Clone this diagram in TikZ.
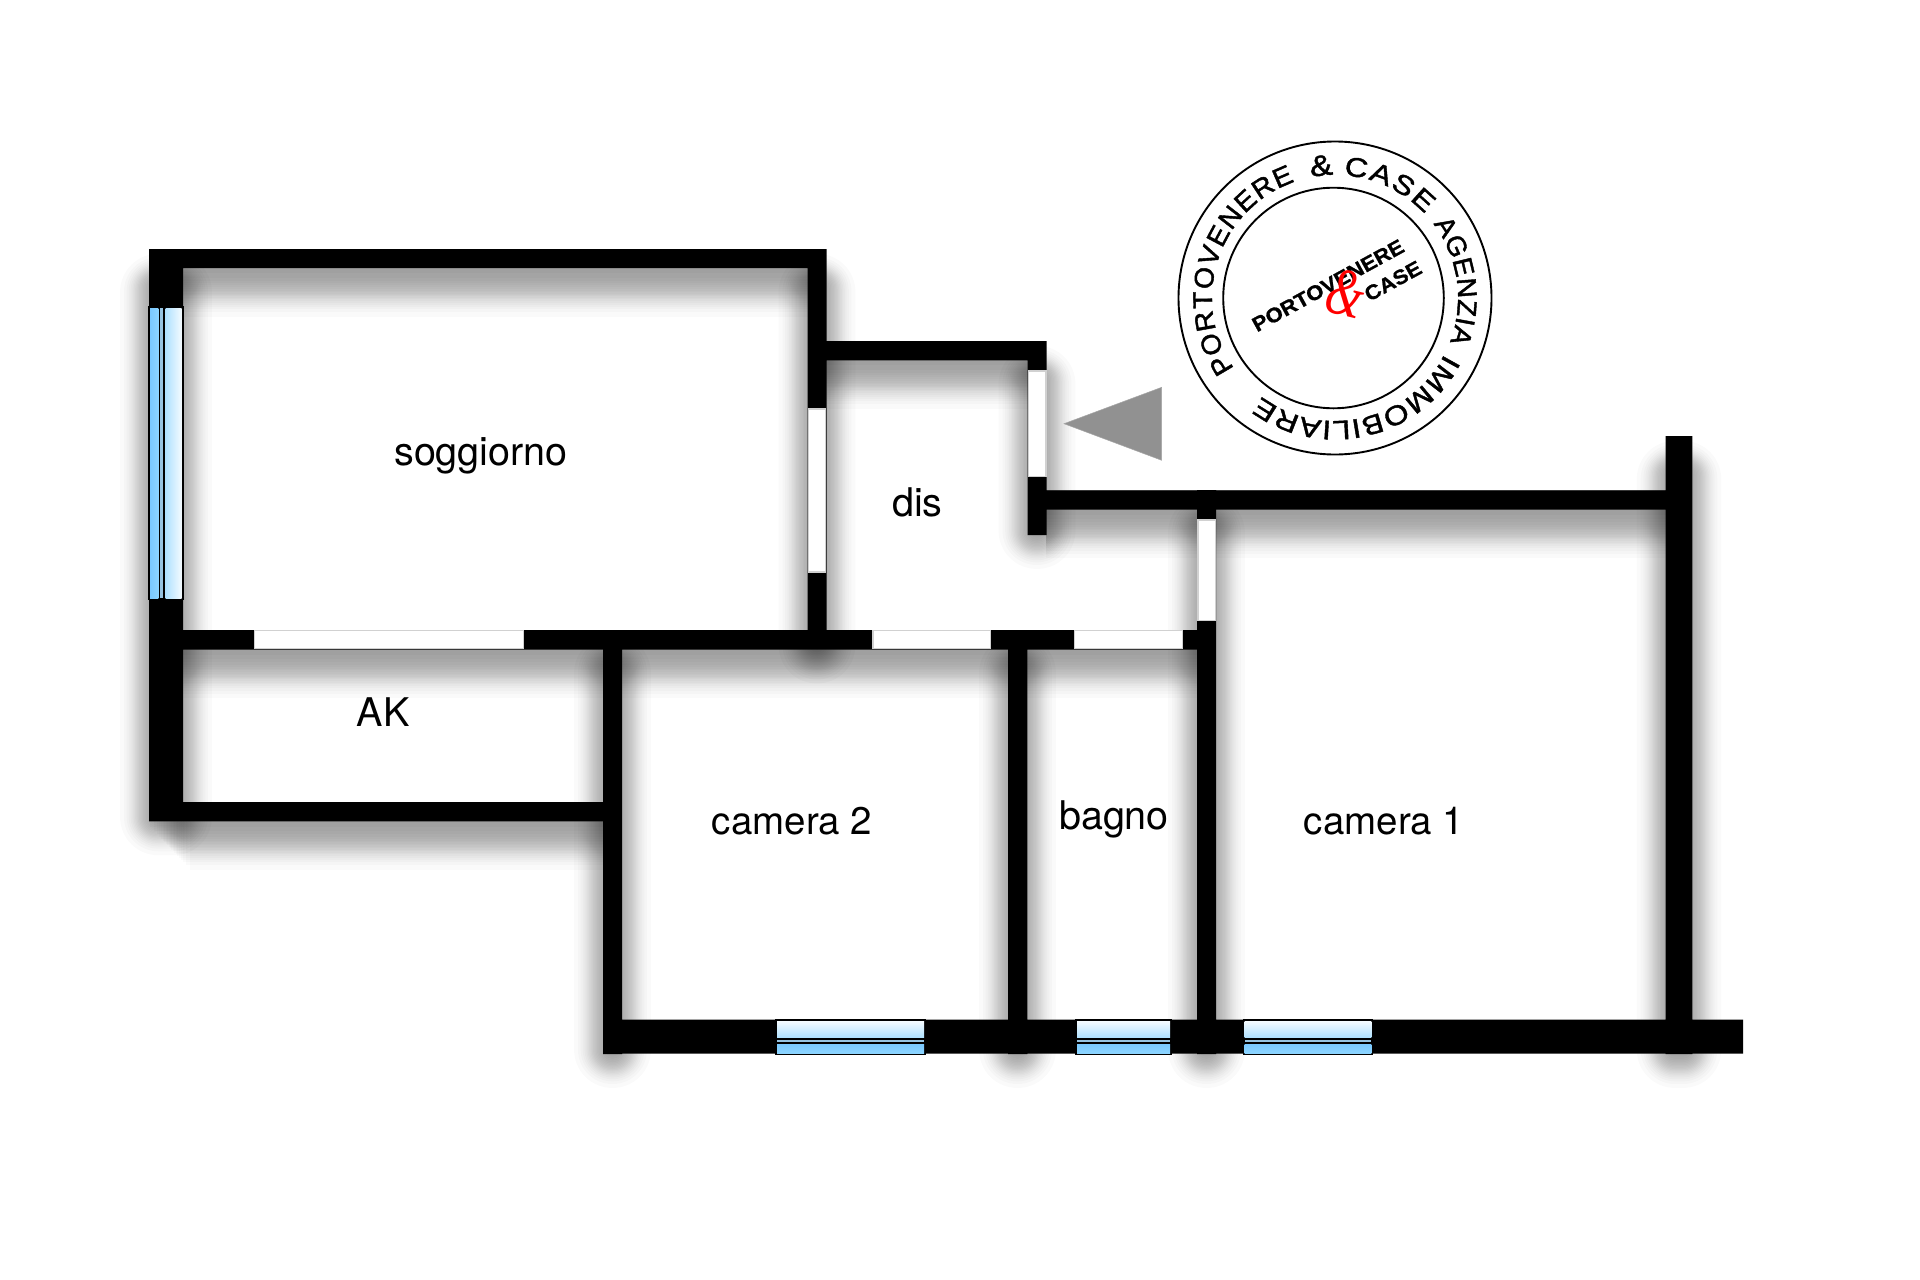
\documentclass[tikz,border=0pt]{standalone}
\usepackage{fontspec}
\setmainfont{TeX Gyre Heros}
\newfontfamily\stampnarrow[FakeStretch=1.05,FakeBold=1.5]{Liberation Sans}
\newfontfamily\stampmid[FakeStretch=1.03,FakeBold=1.5]{Liberation Sans}
\newfontfamily\stampwide[FakeStretch=1.18,FakeBold=1.5]{Liberation Sans}
\newfontfamily\stampbold[FakeStretch=1.08,BoldFeatures={FakeBold=1}]{Liberation Sans}
\newfontfamily\ampfont{Liberation Serif}
\usetikzlibrary{decorations.text}
\definecolor{paneblue}{RGB}{122,201,255}
\definecolor{paneblue2}{RGB}{140,212,255}
\definecolor{panelight}{RGB}{176,225,255}
\definecolor{panewhite}{RGB}{244,251,255}
\definecolor{panestrip}{RGB}{150,195,225}
\tikzset{
  x=1pt,y=-1pt,
  wallfill/.style={fill=black},
  shadowlayerv/.style={fill=black,opacity=0.021},
  shadowlayerh/.style={fill=black,opacity=0.02},
  doorbox/.style={fill=white,draw=black!18,line width=1.2pt},
  label/.style={inner sep=0pt,anchor=base,font=\fontsize{39.5}{48}\selectfont},
  labelcam/.style={inner sep=0pt,anchor=base,font=\fontsize{38.5}{48}\selectfont},
  stampline/.style={draw=black,line width=1.9pt},
  ringword/.style 2 args={decorate,decoration={text along path,text align={fit to path},
      text={|\fontsize{27}{30}#1|#2}}},
}
\newcommand\blurlist{-13.5,-10.7,-8.8,-7.3,-6,-4.8,-3.8,-2.8,-1.8,-0.9,0,0.9,1.8,2.8,3.8,4.8,6,7.3,8.8,10.7,13.5}
\newcommand\vshade[4]{\foreach \t in \blurlist {\pgfmathsetmacro\rr{(\t+13.5)*1.4+0.3}\fill[shadowlayerv,rounded corners=\rr pt] (#1-10-1.4*\t,#2+21-1.2*\t) rectangle (#3+10+1.4*\t,#4+15+1.4*\t);}}
\newcommand\hshade[4]{\foreach \t in \blurlist {\fill[shadowlayerh] (#1,#2) rectangle (#3,#4+27+1.6*\t);}}
\newcommand\hshadesoft[4]{\foreach \t in \blurlist {\fill[shadowlayerh] (#1+1.5*\t,#2) rectangle (#3,#4+27+1.6*\t);}}
\newcommand\bottomwin[2]{%
  \fill[black] (#1,1019) rectangle (#2,1055.3);
  \shade[top color=panewhite,bottom color=panelight] (#1+2,1021.3) rectangle (#2-2,1037.3);
  \fill[panestrip] (#1+2,1040) rectangle (#2-2,1042);
  \shade[top color=paneblue,bottom color=paneblue2] (#1+2,1044) rectangle (#2-2,1053);
}
\begin{document}
\begin{tikzpicture}
\useasboundingbox (0,0) rectangle (1920,1280);
\fill[white] (0,0) rectangle (1920,1280);
% shadows
\hshade{149}{249}{826}{268}
\hshade{826}{341}{1046}{360}
\hshade{1046}{490}{1666}{509.5}
\hshade{183}{630}{1197}{649.5}
\hshadesoft{170}{802}{603}{821.3}
\vshade{149}{249}{183}{821.3}
\vshade{807.5}{249}{826.5}{649.5}
\vshade{1027.5}{341}{1046.5}{535}
\vshade{1197}{490}{1216}{1054}
\vshade{1665.7}{436}{1692.3}{1054}
\vshade{603}{630}{622}{1054}
\vshade{1008}{630}{1027}{1054}
% walls
\path[wallfill]
  (149,249) rectangle (826.5,268)
  (149,249) rectangle (183,821.3)
  (807.5,249) rectangle (826.5,649.5)
  (826,341) rectangle (1046.5,360.3)
  (1027.5,341) rectangle (1046.5,535)
  (1046,490.3) rectangle (1692,509.5)
  (1197,490) rectangle (1216,1054)
  (1665.7,436) rectangle (1692.3,1054)
  (183,630) rectangle (1216,649.5)
  (183,802) rectangle (622,821.3)
  (603,630) rectangle (622,1054)
  (1008,630) rectangle (1027.3,1054)
  (603,1019.5) rectangle (1743,1053.6);
% doors
\path[doorbox] (254.5,630.8) rectangle (523.5,648.8);
\path[doorbox] (873,630.8) rectangle (990.5,648.8);
\path[doorbox] (1074.5,630.8) rectangle (1182.5,648.8);
\path[doorbox] (808.3,409) rectangle (825.7,572);
\path[doorbox] (1028.3,371) rectangle (1046,476.5);
\path[doorbox] (1198,520) rectangle (1215.2,620.5);
% left window
\fill[black] (147.7,306) rectangle (183.7,600);
\shade[left color=paneblue,right color=paneblue2] (150,308) rectangle (158.3,598);
\fill[panestrip] (160.3,308) rectangle (162.5,598);
\shade[left color=panelight,right color=panewhite] (165.7,308) rectangle (181.7,598);
% bottom windows
\bottomwin{775}{926}
\bottomwin{1075}{1172}
\bottomwin{1242.5}{1373.3}
% entrance arrow
\path[fill=black!43,draw=black!35,line width=0.5pt] (1064,423.7) -- (1161.7,387.3) -- (1161.7,460.3) -- cycle;
% labels
\node[label] (soggiorno) at (481,465.5) {soggiorno};
\node[label] (dis) at (917.5,516) {dis};
\node[label] (ak) at (383,726.7) {AK};
\node[labelcam] (cam2) at (792,834) {camera 2};
\node[label] (bagno) at (1114,829) {bagno};
\node[labelcam] (cam1) at (1384,834) {camera 1};
% stamp
\begin{scope}[shift={(1335,298)},x=1pt,y=1pt]
  \path[stampline] (0,0) circle[radius=156.5];
  \path[stampline] (-1.5,0) circle[radius=110.3];
  \path[ringword={\stampnarrow}{PORTOVENERE}] (215:123) arc[start angle=215,end angle=109,radius=123];
  \node[inner sep=0pt,rotate=6] (ampring) at (96:133) {\fontsize{29}{30}\stampwide\&};
  \path[ringword={\stampwide}{CASE}] (86:123) arc[start angle=86,end angle=43,radius=123];
  \path[ringword={\stampmid}{AGENZIA}] (37:123) arc[start angle=37,end angle=-21,radius=123];
  \path[ringword={\stampwide}{IMMOBILIARE}] (-27:123) arc[start angle=-27,end angle=-127,radius=123];
  \node[inner sep=0pt,rotate=28.7] (word1) at (-7,12.5) {\fontsize{20.5}{24}\stampbold\bfseries PORTOVENERE};
  \node[inner sep=0pt,rotate=28.7] (word2) at (58,17) {\fontsize{20.5}{24}\stampbold\bfseries CASE};
  \node[inner sep=0pt,rotate=-14,xscale=0.7,text=red] (amp) at (11,5) {\fontsize{68}{72}\ampfont\itshape\&};
\end{scope}
\end{tikzpicture}
\end{document}
